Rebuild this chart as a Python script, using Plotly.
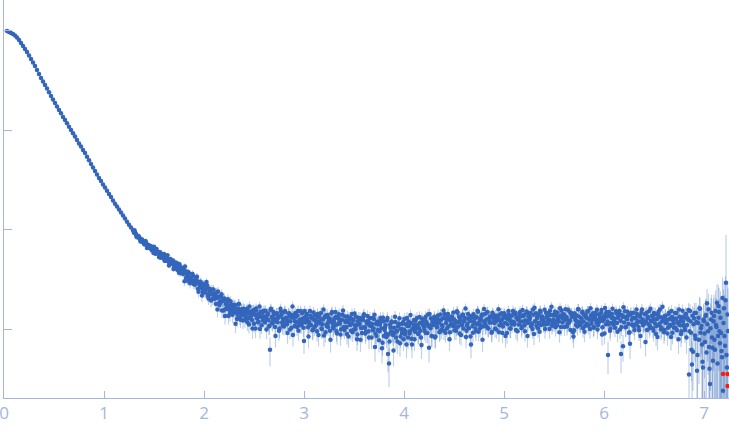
import plotly.graph_objects as go

# ---- scattering vector grids (sampling of the curve) ----
q_smooth = [round(0.03 + 0.02 * i, 2) for i in range(64)]           # 0.03 .. 1.29
q_knee = [round(1.30 + 0.01 * i, 2) for i in range(110)]            # 1.30 .. 2.39
q_knee_b = [round(1.305 + 0.01 * i, 3) for i in range(110)]         # 1.305 .. 2.395
q_plateau = [round(2.40 + 0.01 * i, 2) for i in range(440)]         # 2.40 .. 6.79
q_plateau_b = [round(2.405 + 0.01 * i, 3) for i in range(440)]      # 2.405 .. 6.795
q_tail = [round(6.80 + 0.01 * i, 2) for i in range(45)]             # 6.80 .. 7.24
q_tail_b = [round(6.805 + 0.01 * i, 3) for i in range(44)]          # 6.805 .. 7.235

# ---- intensities (arbitrary units, log axis) ----
I_smooth = [988, 966, 944, 923, 891, 851, 803, 749, 699, 652,
            608, 561, 517, 477, 440, 401, 366, 334, 307, 283,
            261, 239, 220, 203, 187, 172, 159, 147, 135, 126,
            117, 108, 100, 92.7, 86.1, 79.3, 73.1, 68.2, 62.9, 58.7,
            53.9, 49.6, 45.5, 42.0, 38.7, 35.7, 33.0, 30.7, 28.4, 26.4,
            24.5, 22.7, 21.2, 19.6, 18.2, 17.0, 15.9, 14.8, 13.8, 12.9,
            12.0, 11.2, 10.5, 9.77]

I_knee = [9.30, 9.38, 8.96, 8.37, 8.43, 8.37, 7.98, 7.65, 7.94, 7.61,
          7.18, 7.21, 7.43, 6.54, 6.98, 6.76, 6.86, 6.41, 6.14, 6.45,
          6.71, 5.99, 5.76, 5.97, 5.97, 5.31, 5.92, 5.52, 5.50, 5.20,
          5.69, 4.85, 5.25, 5.24, 4.80, 4.35, 4.83, 4.89, 4.52, 4.89,
          4.12, 4.38, 4.08, 4.59, 4.11, 3.68, 4.16, 3.82, 4.12, 3.57,
          3.79, 4.25, 3.27, 3.44, 3.57, 3.62, 2.88, 3.28, 3.07, 3.43,
          3.03, 2.79, 3.14, 3.36, 2.54, 2.90, 2.65, 2.91, 2.17, 2.62,
          2.82, 2.34, 2.52, 2.76, 2.15, 2.28, 2.42, 1.93, 2.50, 2.24,
          2.05, 2.27, 1.79, 2.05, 2.39, 1.81, 1.90, 2.11, 1.54, 1.91,
          1.97, 1.35, 1.80, 1.60, 1.99, 1.71, 1.43, 1.74, 1.55, 1.75,
          1.47, 1.74, 1.49, 1.26, 1.61, 1.78, 1.31, 1.45, 1.58, 1.22]

I_knee_b = [9.83, 9.11, 8.53, 8.49, 8.62, 8.26, 7.59, 7.95, 7.50, 7.47,
            7.08, 7.67, 7.11, 6.60, 6.96, 6.51, 6.49, 6.74, 6.55, 5.80,
            6.25, 5.72, 6.38, 5.78, 5.77, 5.88, 5.21, 5.35, 5.69, 5.40,
            4.87, 5.29, 4.87, 5.52, 4.85, 4.53, 5.06, 4.67, 4.70, 4.01,
            4.26, 4.66, 4.25, 3.91, 3.95, 4.48, 3.66, 4.02, 3.75, 3.98,
            3.02, 3.72, 3.78, 3.06, 3.73, 3.27, 3.09, 3.30, 3.57, 2.83,
            3.05, 2.85, 3.31, 3.01, 2.37, 2.83, 2.99, 2.59, 2.35, 2.77,
            2.53, 2.33, 2.97, 2.55, 2.03, 2.54, 2.24, 2.30, 2.01, 2.49,
            2.01, 2.10, 2.33, 1.57, 2.11, 1.74, 1.84, 2.24, 1.92, 1.54,
            2.03, 1.59, 1.73, 1.88, 1.35, 1.55, 1.90, 1.65, 1.39, 1.66,
            1.72, 1.13, 1.58, 1.39, 1.79, 1.51, 1.24, 1.57, 1.38, 1.60]

I_plateau = [1.50, 1.24, 1.43, 1.60, 1.29, 1.11, 1.50, 1.36, 1.23, 1.53,
             1.13, 1.39, 1.61, 1.28, 1.17, 1.42, 1.00, 1.50, 1.32, 1.22,
             1.53, 1.16, 1.33, 1.25, 1.43, 1.06, 0.62, 1.60, 1.17, 1.26,
             1.39, 1.05, 1.20, 1.44, 1.29, 0.96, 1.34, 1.50, 1.16, 1.26,
             1.06, 1.52, 1.30, 1.12, 1.20, 1.44, 0.99, 1.39, 1.31, 0.87,
             1.39, 1.20, 1.33, 1.05, 1.52, 1.15, 1.09, 1.25, 1.44, 1.17,
             0.76, 1.31, 1.23, 1.42, 1.04, 1.18, 1.52, 1.09, 1.28, 0.99,
             1.24, 1.37, 1.09, 0.95, 1.32, 1.19, 1.14, 1.45, 1.00, 1.25,
             0.86, 1.32, 1.37, 1.12, 1.05, 1.28, 0.96, 1.21, 1.48, 1.04,
             1.19, 1.09, 1.33, 0.90, 1.28, 1.41, 1.14, 0.99, 1.23, 1.54,
             1.04, 1.34, 1.21, 0.89, 1.17, 1.29, 1.10, 0.96, 1.42, 1.25,
             0.99, 1.09, 1.33, 0.79, 1.20, 1.12, 1.29, 1.03, 0.91, 1.24,
             1.41, 1.03, 0.94, 1.14, 1.20, 0.82, 1.29, 1.07, 1.12, 0.97,
             1.26, 0.66, 1.13, 1.18, 0.98, 0.77, 1.11, 1.19, 0.64, 1.30,
             0.85, 1.03, 0.90, 1.22, 0.56, 0.45, 1.11, 0.94, 1.17, 0.87,
             1.03, 1.33, 0.82, 0.95, 1.06, 1.13, 0.72, 1.00, 0.91, 1.17,
             0.99, 0.88, 1.12, 1.29, 0.82, 1.08, 0.95, 1.15, 0.70, 1.02,
             1.23, 0.94, 1.09, 1.29, 0.90, 1.02, 1.15, 0.82, 1.27, 1.10,
             1.04, 1.22, 0.91, 1.12, 1.40, 0.65, 1.09, 1.28, 0.85, 1.18,
             1.27, 0.82, 1.18, 1.04, 1.37, 1.16, 0.95, 1.24, 1.09, 1.28,
             0.96, 1.28, 1.15, 1.01, 1.42, 1.25, 0.93, 1.12, 1.33, 1.07,
             1.25, 1.15, 0.96, 1.51, 1.06, 1.33, 1.22, 0.87, 1.11, 1.39,
             1.20, 1.29, 0.83, 1.08, 1.42, 1.02, 1.21, 0.70, 1.32, 0.92,
             1.19, 1.29, 0.95, 1.11, 1.49, 1.16, 1.01, 1.25, 1.40, 1.06,
             1.59, 1.15, 1.07, 1.47, 1.02, 1.26, 1.34, 1.16, 0.94, 1.40,
             1.28, 1.01, 1.20, 1.36, 1.30, 0.93, 1.40, 1.12, 1.25, 1.06,
             1.44, 1.15, 1.34, 0.91, 1.25, 1.39, 1.01, 1.20, 1.12, 1.52,
             1.18, 1.43, 0.98, 1.29, 1.24, 1.11, 1.48, 1.34, 1.06, 1.19,
             1.39, 0.95, 1.22, 1.47, 1.15, 1.38, 1.31, 1.06, 1.11, 1.57,
             0.89, 1.20, 1.44, 1.29, 1.02, 1.15, 1.53, 1.10, 1.34, 1.24,
             1.17, 1.00, 1.46, 1.32, 1.13, 1.25, 1.53, 1.21, 1.08, 1.38,
             1.14, 1.49, 1.37, 1.09, 1.27, 1.19, 1.62, 1.05, 1.30, 1.41,
             1.40, 1.24, 1.29, 1.06, 1.56, 1.16, 1.22, 1.43, 1.33, 0.93,
             0.97, 1.29, 1.10, 1.20, 1.58, 1.34, 1.12, 1.16, 1.47, 1.02,
             1.40, 1.07, 1.32, 1.13, 1.50, 1.26, 1.00, 1.37, 1.23, 1.44,
             1.05, 1.36, 1.24, 1.56, 1.10, 1.18, 1.31, 1.45, 0.88, 1.21,
             1.26, 1.63, 1.12, 1.34, 0.55, 1.48, 0.96, 1.15, 1.42, 1.29,
             1.20, 1.03, 1.51, 1.15, 1.30, 1.43, 0.99, 0.56, 1.38, 0.67,
             1.16, 1.51, 1.05, 1.26, 1.35, 0.92, 0.71, 1.45, 1.11, 1.30,
             1.07, 1.28, 1.12, 1.42, 1.20, 0.97, 1.33, 1.18, 1.57, 1.09,
             1.13, 1.41, 1.19, 0.98, 1.32, 1.51, 1.07, 1.22, 1.36, 1.02,
             1.45, 1.14, 0.89, 1.26, 1.38, 1.09, 1.57, 0.99, 1.19, 1.30,
             0.93, 1.35, 1.15, 1.23, 1.03, 1.46, 1.10, 0.83, 1.32, 1.22,
             1.03, 1.45, 1.27, 0.97, 1.15, 1.57, 1.09, 0.89, 1.31, 1.19]

I_plateau_b = [1.57, 1.34, 1.52, 1.17, 1.43, 1.68, 1.28, 1.44, 1.01, 1.55,
               1.41, 1.01, 1.54, 1.30, 1.19, 1.68, 1.34, 1.09, 1.46, 1.25,
               1.33, 1.53, 0.99, 1.39, 1.23, 1.08, 1.55, 1.32, 1.14, 1.48,
               1.26, 0.85, 1.42, 1.17, 1.33, 1.01, 1.60, 1.39, 1.08, 1.22,
               1.48, 1.14, 1.27, 0.91, 1.43, 1.34, 1.20, 1.03, 1.68, 1.30,
               1.07, 1.45, 1.16, 1.37, 0.96, 1.23, 1.52, 1.10, 1.27, 1.03,
               1.52, 1.16, 1.38, 1.27, 0.84, 1.11, 1.36, 1.31, 0.97, 1.47,
               1.05, 1.23, 1.17, 1.42, 0.87, 1.32, 1.24, 1.01, 1.12, 1.57,
               1.32, 0.93, 1.07, 1.38, 1.18, 1.27, 0.78, 1.43, 1.14, 1.02,
               1.28, 1.48, 0.95, 1.12, 1.33, 1.19, 0.88, 1.24, 1.39, 1.04,
               0.98, 1.18, 1.05, 1.34, 0.84, 1.24, 1.30, 1.13, 0.93, 1.22,
               1.43, 1.00, 1.09, 0.88, 1.29, 1.14, 0.78, 1.24, 1.03, 1.34,
               1.04, 0.90, 1.19, 1.35, 0.95, 1.09, 1.14, 0.82, 1.29, 1.02,
               1.39, 0.90, 0.85, 1.12, 1.19, 0.95, 1.29, 1.02, 0.73, 1.20,
               0.98, 1.09, 0.83, 1.29, 0.88, 0.75, 1.03, 1.19, 0.93, 0.61,
               0.91, 1.18, 0.96, 0.75, 1.09, 1.28, 0.84, 0.99, 1.13, 0.79,
               1.26, 0.95, 0.70, 1.07, 1.19, 0.90, 1.38, 0.80, 1.00, 1.11,
               0.79, 1.21, 1.01, 1.09, 0.89, 1.32, 0.96, 0.69, 1.18, 1.08,
               0.96, 1.32, 1.17, 0.91, 1.07, 1.42, 1.02, 0.85, 1.20, 1.10,
               1.33, 0.84, 1.08, 1.27, 1.18, 0.93, 1.40, 0.98, 1.06, 1.54,
               1.42, 0.92, 1.26, 1.31, 1.06, 0.79, 1.22, 1.33, 1.11, 1.47,
               0.97, 1.21, 1.04, 1.46, 1.17, 0.90, 1.31, 1.10, 1.39, 1.01,
               1.23, 1.61, 0.96, 1.13, 1.27, 1.36, 0.84, 1.20, 1.07, 1.41,
               1.15, 1.01, 1.32, 1.53, 0.94, 1.26, 1.10, 1.35, 0.78, 1.19,
               1.41, 1.07, 1.25, 1.48, 1.01, 1.16, 1.32, 0.92, 1.46, 1.26,
               1.15, 1.36, 0.99, 1.24, 1.58, 1.09, 1.20, 1.44, 0.91, 1.31,
               1.39, 0.85, 1.28, 1.12, 1.52, 1.27, 1.01, 1.36, 1.18, 1.41,
               1.11, 1.46, 1.31, 0.95, 1.26, 1.40, 1.19, 1.02, 1.55, 1.35,
               1.09, 1.21, 1.50, 0.85, 1.34, 1.25, 1.45, 1.14, 1.00, 1.39,
               1.64, 1.19, 1.08, 1.31, 1.39, 0.94, 1.49, 1.24, 1.30, 1.12,
               1.56, 1.11, 1.32, 1.23, 1.45, 1.00, 1.38, 1.67, 1.14, 1.25,
               1.41, 1.04, 1.20, 1.47, 1.31, 0.93, 1.36, 1.54, 1.16, 1.27,
               1.05, 1.58, 1.32, 1.13, 1.22, 1.49, 0.98, 1.43, 1.34, 0.84,
               1.44, 1.22, 1.37, 1.06, 1.58, 1.17, 1.10, 1.28, 1.49, 1.19,
               0.94, 1.39, 1.30, 1.51, 1.08, 1.24, 1.62, 1.13, 1.35, 1.03,
               1.31, 1.46, 1.15, 0.99, 1.40, 1.26, 1.21, 1.55, 1.04, 1.33,
               0.90, 1.42, 1.48, 1.19, 1.12, 1.37, 1.01, 1.30, 1.60, 1.10,
               1.27, 1.16, 1.43, 0.94, 1.38, 1.52, 1.21, 1.05, 1.32, 1.66,
               1.33, 1.04, 1.28, 1.49, 1.13, 0.93, 1.40, 1.24, 1.10, 1.46,
               0.98, 1.30, 1.57, 1.18, 1.05, 1.36, 0.85, 1.46, 1.25, 1.14,
               1.16, 0.74, 1.46, 1.28, 1.12, 1.02, 1.60, 1.20, 1.34, 0.96,
               1.25, 1.41, 1.07, 0.83, 1.49, 1.13, 1.31, 1.03, 1.67, 1.21,
               0.98, 1.36, 1.16, 0.90, 1.42, 1.26, 1.08, 1.52, 0.92, 1.14,
               1.27, 1.03, 1.45, 1.17, 0.79, 1.33, 1.21, 0.95, 1.53, 1.09]

I_tail = [1.30, 0.98, 1.42, 1.10, 1.25, 0.35, 1.52, 0.92, 0.44, 0.59,
          1.28, 0.86, 1.45, 0.38, 1.15, 0.78, 1.60, 1.02, 0.70, 0.41,
          1.20, 0.74, 1.38, 1.82, 0.95, 0.66, 0.28, 1.25, 0.82, 0.48,
          1.35, 0.62, 1.10, 1.84, 0.85, 1.48, 0.72, 0.91, 0.52, 0.24,
          1.62, 0.68, 2.92, 0.41, 0.955]

I_tail_b = [1.05, 1.41, 0.82, 1.28, 1.55, 0.95, 1.20, 0.62, 1.36, 1.12,
            1.45, 0.80, 1.18, 0.55, 1.30, 1.62, 0.92, 1.08, 0.47, 1.25,
            0.90, 1.35, 0.58, 1.12, 1.58, 0.40, 1.02, 1.46, 0.65, 1.20,
            0.78, 1.52, 1.05, 0.45, 1.70, 0.95, 1.30, 0.60, 2.05, 1.15,
            0.85, 1.95, 0.55, 1.40]

# ---- uncertainties: one value per 0.1-wide q bin up to 6.8, then per point ----
err_bins = [3.0, 2.5, 2.0, 1.5, 1.0, 0.7, 0.5, 0.35, 0.25, 0.2,
            0.15, 0.13, 0.12, 0.13, 0.18, 0.22, 0.26, 0.30, 0.32, 0.30,
            0.28, 0.26, 0.24, 0.22, 0.21, 0.20, 0.20, 0.20, 0.20, 0.20,
            0.20, 0.20, 0.20, 0.20, 0.19, 0.19, 0.19, 0.19, 0.19, 0.19,
            0.19, 0.19, 0.19, 0.19, 0.19, 0.19, 0.19, 0.19, 0.19, 0.19,
            0.20, 0.20, 0.20, 0.20, 0.20, 0.20, 0.20, 0.20, 0.20, 0.20,
            0.20, 0.20, 0.21, 0.21, 0.21, 0.22, 0.22, 0.23]
err_tail = [0.22, 0.25, 0.22, 0.28, 0.24, 0.30, 0.26, 0.30, 0.32, 0.35,
            0.35, 0.40, 0.38, 0.45, 0.40, 0.50, 0.45, 0.50, 0.55, 0.50,
            0.55, 0.60, 0.65, 0.70, 0.60, 0.70, 0.75, 0.80, 0.70, 0.80,
            0.85, 0.90, 0.95, 1.00, 0.90, 1.10, 1.00, 1.20, 1.10, 1.30,
            1.40, 1.30, 5.90, 1.50, 1.60]
err_tail_b = [0.24, 0.23, 0.26, 0.27, 0.28, 0.28, 0.30, 0.32, 0.34, 0.35,
              0.38, 0.40, 0.42, 0.42, 0.45, 0.48, 0.50, 0.52, 0.52, 0.55,
              0.58, 0.62, 0.65, 0.65, 0.68, 0.72, 0.78, 0.75, 0.80, 0.82,
              0.88, 0.92, 0.95, 0.95, 1.05, 1.05, 1.10, 1.15, 1.25, 1.35,
              1.35, 1.45, 1.50, 1.55]

# ---- points flagged in red (outliers) ----
q_red = [7.19, 7.235, 7.235]
I_red = [0.353, 0.353, 0.267]

q_binned = q_smooth + q_knee + q_knee_b + q_plateau + q_plateau_b
I_binned = I_smooth + I_knee + I_knee_b + I_plateau + I_plateau_b
err_binned = [err_bins[int(v * 10 + 1e-9)] for v in q_binned]

q_all = q_binned + q_tail + q_tail_b
I_all = I_binned + I_tail + I_tail_b
err_all = err_binned + err_tail + err_tail_b

axis_col = "#a3b6de"
pt_col = "#3366bb"

fig = go.Figure()
fig.add_trace(go.Scatter(
    x=q_all, y=I_all, mode="markers",
    marker=dict(size=4.5, color=pt_col, line=dict(width=0)),
    error_y=dict(type="data", array=err_all, color="rgba(51,102,187,0.3)",
                 thickness=1.2, width=0),
    showlegend=False, hoverinfo="skip"))
fig.add_trace(go.Scatter(
    x=q_red, y=I_red, mode="markers",
    marker=dict(size=4.5, color="#e8221c", line=dict(width=0)),
    showlegend=False, hoverinfo="skip"))

fig.update_layout(
    width=729, height=437,
    margin=dict(l=4, r=0, t=0, b=39, autoexpand=False),
    paper_bgcolor="white", plot_bgcolor="white",
    font=dict(family="Open Sans", color=axis_col),
    xaxis=dict(range=[0, 7.25], dtick=1, tick0=0, showgrid=False, zeroline=False,
               automargin=False, ticklabeloverflow="allow",
               showline=True, linecolor=axis_col, linewidth=1,
               ticks="inside", ticklen=7, tickcolor=axis_col, tickwidth=1,
               tickfont=dict(size=17, color=axis_col, family="Open Sans")),
    yaxis=dict(type="log", range=[-0.693, 3.3065], dtick=1, showgrid=False,
               automargin=False,
               zeroline=False, showline=True, linecolor=axis_col, linewidth=1,
               ticks="inside", ticklen=8, tickcolor=axis_col, tickwidth=1,
               showticklabels=False),
)

fig.write_html("out.html", config={"displayModeBar": False},
               post_script="document.body.style.margin='0';document.body.style.padding='0';")
